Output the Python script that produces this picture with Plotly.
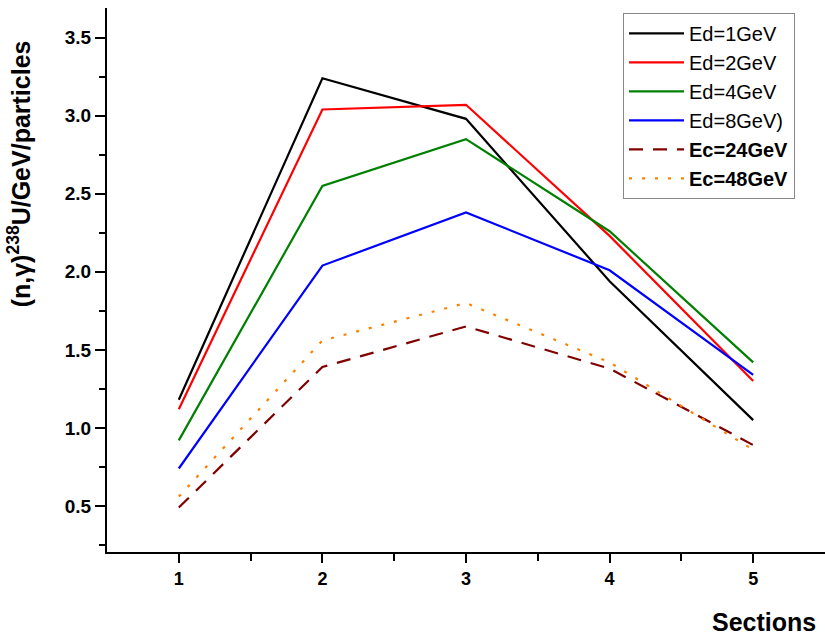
import plotly.graph_objects as go

sections = [1, 2, 3, 4, 5]
ed1 = [1.18, 3.24, 2.98, 1.94, 1.05]
ed2 = [1.12, 3.04, 3.07, 2.23, 1.30]
ed4 = [0.92, 2.55, 2.85, 2.26, 1.42]
ed8 = [0.74, 2.04, 2.38, 2.01, 1.34]
ec24 = [0.49, 1.39, 1.65, 1.38, 0.89]
ec48 = [0.56, 1.56, 1.80, 1.42, 0.86]

names = ["Ed=1GeV", "Ed=2GeV", "Ed=4GeV", "Ed=8GeV)", "<b>Ec=24GeV</b>", "<b>Ec=48GeV</b>"]
series = [ed1, ed2, ed4, ed8, ec24, ec48]
colors = ["#000000", "#FF0000", "#008000", "#0000FF", "#800000", "#FF8000"]
dashes = ["solid", "solid", "solid", "solid", "14px,10px", "3px,10px"]

fig = go.Figure()
for n, s, c, d in zip(names, series, colors, dashes):
    fig.add_trace(go.Scatter(x=sections, y=s, mode="lines", name=n,
                             line=dict(color=c, width=2.2, dash=d)))

font = "Liberation Sans, Arial, sans-serif"
fig.update_layout(
    width=825, height=638,
    margin=dict(l=107, r=0, t=8, b=86),
    paper_bgcolor="white", plot_bgcolor="white",
    font=dict(family=font, color="black"),
    showlegend=True,
    legend=dict(x=0.7187, y=0.991, xanchor="left", yanchor="top",
                bgcolor="white", bordercolor="#888888", borderwidth=1,
                font=dict(size=20, color="black", family=font),
                itemwidth=55, tracegroupgap=0),
    xaxis=dict(range=[0.5, 5.5], tickvals=[1, 2, 3, 4, 5],
               showgrid=False, zeroline=False, showline=True,
               linecolor="black", linewidth=2, ticks="outside",
               ticklen=9, tickwidth=2, tickcolor="black",
               tickfont=dict(size=18, family=font, weight="bold"),
               minor=dict(tickvals=[1.5, 2.5, 3.5, 4.5], ticks="outside",
                          ticklen=7, tickwidth=2, tickcolor="black")),
    yaxis=dict(range=[0.205, 3.69], tickvals=[0.5, 1.0, 1.5, 2.0, 2.5, 3.0, 3.5],
               tickformat=".1f",
               showgrid=False, zeroline=False, showline=True,
               linecolor="black", linewidth=2, ticks="outside",
               ticklen=10, tickwidth=2, tickcolor="black",
               tickfont=dict(size=19, family=font, weight="bold"),
               minor=dict(tickvals=[0.25, 0.75, 1.25, 1.75, 2.25, 2.75, 3.25],
                          ticks="outside", ticklen=6, tickwidth=2,
                          tickcolor="black")),
    annotations=[
        dict(text="<b>(n,γ)<sup>238</sup>U/GeV/particles</b>", xref="paper", yref="paper",
             x=-0.122, y=0.695, xanchor="center", yanchor="middle",
             textangle=-90, showarrow=False, font=dict(size=25, family=font)),
        dict(text="<b>Sections</b>", xref="paper", yref="paper",
             x=0.990, y=-0.1287, xanchor="right", yanchor="middle",
             showarrow=False, font=dict(size=25, family=font)),
    ],
)

fig.write_html("out.html")
